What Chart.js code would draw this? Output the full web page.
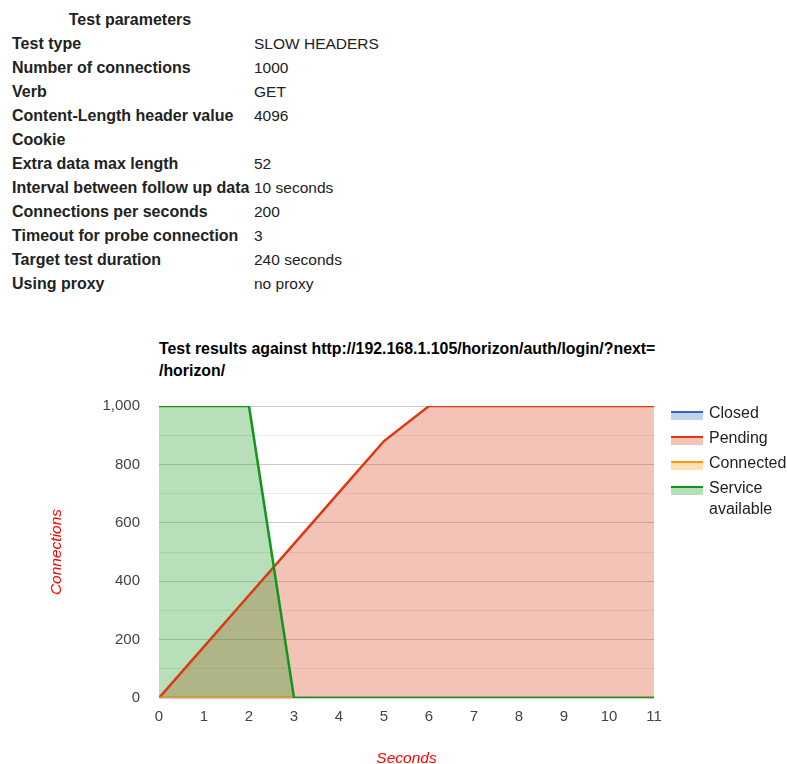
<!DOCTYPE html>
<html>
<head>
<meta charset="utf-8">
<script src="https://cdn.jsdelivr.net/npm/chart.js@4.4.0/dist/chart.umd.min.js"></script>
<style>
  body { margin: 0; background: #fff; font-family: "Liberation Sans", Arial, sans-serif; }
  #params { position: absolute; left: 12px; top: 8px; border-collapse: collapse; font-size: 15.5px; color: #222; }
  #params td, #params th { padding: 0; line-height: 24px; height: 24px; white-space: nowrap; }
  #params th { text-align: center; font-weight: bold; font-size: 16px; padding-right: 6px; }
  #params td.k { font-weight: bold; font-size: 16px; width: 242px; }
  #chartTitle { position: absolute; left: 159px; top: 338px; font-size: 15.9px; font-weight: bold; line-height: 22px; color: #000; }
  #chartBox { position: absolute; left: 0; top: 320px; width: 787px; height: 450px; }
  #legend { position: absolute; left: 671px; top: 402px; font-size: 16px; color: #222; }
  .item { position: relative; height: 25px; padding-left: 38px; line-height: 21px; }
  .item .ln { position: absolute; left: 0; top: 9px; width: 32px; height: 2px; }
  .item .fl { position: absolute; left: 0; top: 11px; width: 32px; height: 7px; }
</style>
</head>
<body>
<table id="params">
  <tr><th>Test parameters</th><th></th></tr>
</table>
<div id="chartTitle">Test results against http://192.168.1.105/horizon/auth/login/?next=<br>/horizon/</div>
<div id="chartBox"><canvas id="resultsChart"></canvas></div>
<div id="legend"></div>
<script>
// Test parameters table
const paramNames = ['Test type', 'Number of connections', 'Verb', 'Content-Length header value', 'Cookie',
    'Extra data max length', 'Interval between follow up data', 'Connections per seconds',
    'Timeout for probe connection', 'Target test duration', 'Using proxy'];
const paramValues = ['SLOW HEADERS', '1000', 'GET', '4096', '', '52', '10 seconds', '200', '3', '240 seconds', 'no proxy'];

// Chart data
const seconds = [0, 1, 2, 3, 4, 5, 6, 7, 8, 9, 10, 11];
const closed = [0, 0, 0, 0, 0, 0, 0, 0, 0, 0, 0, 0];
const pending = [0, 176, 352, 528, 704, 880, 1000, 1000, 1000, 1000, 1000, 1000];
const connected = [0, 0, 0, 0, 0, 0, 0, 0, 0, 0, 0, 0];
const serviceAvailable = [1000, 1000, 1000, 0, 0, 0, 0, 0, 0, 0, 0, 0];

const seriesNames = ['Closed', 'Pending', 'Connected', 'Service available'];
const seriesColors = ['#3366cc', '#dc3912', '#ff9900', '#109618'];
const seriesData = [closed, pending, connected, serviceAvailable];

const table = document.getElementById('params');
paramNames.forEach((name, i) => {
    const tr = document.createElement('tr');
    tr.innerHTML = '<td class="k"></td><td></td>';
    tr.children[0].textContent = name;
    tr.children[1].textContent = paramValues[i];
    table.appendChild(tr);
});

function hexToRgba(hex, a) {
    const n = parseInt(hex.slice(1), 16);
    return 'rgba(' + (n >> 16) + ',' + ((n >> 8) & 255) + ',' + (n & 255) + ',' + a + ')';
}

// Legend
const legend = document.getElementById('legend');
seriesNames.forEach((name, i) => {
    const item = document.createElement('div');
    item.className = 'item';
    item.innerHTML = '<span class="ln"></span><span class="fl"></span>';
    item.children[0].style.background = seriesColors[i];
    item.children[1].style.background = hexToRgba(seriesColors[i], 0.3);
    if (name === 'Service available') {
        item.appendChild(document.createTextNode('Service'));
        item.appendChild(document.createElement('br'));
        item.appendChild(document.createTextNode('available'));
    } else {
        item.appendChild(document.createTextNode(name));
    }
    legend.appendChild(item);
});

const datasets = seriesNames.map((name, i) => ({
    label: name,
    data: seconds.map((s, j) => ({ x: s, y: seriesData[i][j] })),
    borderColor: seriesColors[i],
    backgroundColor: hexToRgba(seriesColors[i], 0.3),
    borderWidth: 2.5,
    pointRadius: 0,
    tension: 0,
    fill: 'origin',
    order: seriesNames.length - i
}));

new Chart(document.getElementById('resultsChart').getContext('2d'), {
    type: 'line',
    data: { datasets: datasets },
    options: {
        responsive: true,
        maintainAspectRatio: false,
        animation: false,
        layout: { padding: { top: 86, right: 133, left: 0, bottom: 0 } },
        plugins: {
            legend: { display: false },
            tooltip: { enabled: false },
            // all areas first, lines on top
            filler: { drawTime: 'beforeDatasetsDraw' }
        },
        scales: {
            x: {
                type: 'linear',
                min: 0,
                max: 11,
                grid: { display: false },
                border: { display: false },
                ticks: {
                    stepSize: 1,
                    padding: 2,
                    color: '#444',
                    font: { family: 'Liberation Sans', size: 15 }
                },
                title: {
                    display: true,
                    text: 'Seconds',
                    color: '#ff0000',
                    padding: { top: 0, bottom: 2 },
                    font: { family: 'Liberation Sans', size: 15.5, style: 'italic' }
                },
                afterFit: scale => { scale.height = 72; }
            },
            y: {
                min: 0,
                max: 1000,
                grid: {
                    drawTicks: false,
                    color: ctx => (ctx.tick.value % 200 === 0 ? '#cccccc' : '#ebebeb'),
                    lineWidth: 1
                },
                border: { display: false },
                ticks: {
                    stepSize: 100,
                    padding: 19,
                    color: '#444',
                    font: { family: 'Liberation Sans', size: 15 },
                    callback: v => (v % 200 === 0 ? v.toLocaleString('en-US') : '')
                },
                title: {
                    display: true,
                    text: 'Connections',
                    color: '#ff0000',
                    padding: { top: 47, bottom: 0 },
                    font: { family: 'Liberation Sans', size: 15.5, style: 'italic' }
                },
                afterFit: scale => { scale.width = 159; }
            }
        }
    }
});
</script>
</body>
</html>
